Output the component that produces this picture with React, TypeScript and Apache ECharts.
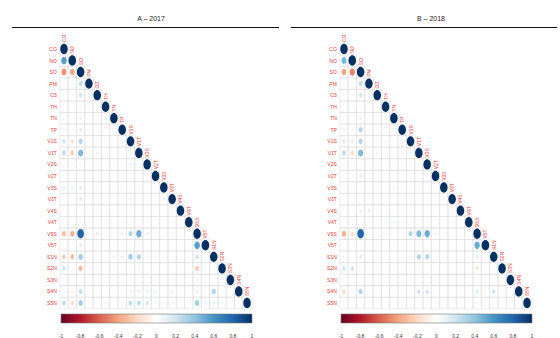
import React, { useEffect, useRef } from "react";
import * as echarts from "echarts";

const variables = [
  "CO", "NO", "SO", "PM", "O3", "TH", "TN", "TP", "V1S", "V1T", "V2S", "V2T",
  "V3S", "V3T", "V4S", "V4T", "V5S", "V5T", "S1N", "S2N", "S3N", "S4N", "S5N",
];

const titles = ["A – 2017", "B – 2018"];

const corrA: number[][] = [
  [],
  [0.55],
  [-0.45, -0.4],
  [0.08, 0.06, 0.25],
  [0.07, 0.05, 0.2, 0.1],
  [0.04, 0.03, 0.08, 0.05, 0.06],
  [0.06, 0.05, 0.1, 0.04, 0.05, 0.08],
  [0.08, 0.07, 0.15, 0.05, 0.04, 0.06, 0.1],
  [0.2, -0.18, 0.3, 0.06, 0.05, 0.04, 0.06, 0.05],
  [0.25, -0.25, 0.45, 0.05, 0.1, 0.04, 0.03, 0.05, 0.08],
  [0.06, 0.05, 0.08, 0.03, 0.04, 0.05, 0.03, 0.04, 0.1, 0.05],
  [0.04, 0.03, 0.06, 0.05, 0.03, 0.04, 0.05, 0.03, 0.04, 0.06, 0.05],
  [0.12, 0.1, 0.15, 0.04, 0.08, 0.05, 0.06, 0.08, 0.05, 0.04, 0.05, 0.06],
  [0.05, 0.04, 0.15, 0.03, 0.04, 0.05, 0.03, 0.04, 0.08, 0.04, 0.05, 0.03, 0.12],
  [0.03, 0.04, 0.05, 0.03, 0.04, 0.03, 0.05, 0.04, 0.03, 0.05, 0.04, 0.03, 0.05, 0.06],
  [0.04, 0.03, 0.08, 0.05, 0.03, 0.04, 0.03, 0.05, 0.04, 0.03, 0.05, 0.04, 0.03, 0.05, 0.04],
  [-0.3, -0.35, 0.8, 0.08, 0.12, 0.05, 0.06, 0.1, 0.3, 0.5, 0.1, 0.06, 0.05, -0.06, 0.05, 0.04],
  [0.05, 0.04, 0.15, 0.03, 0.04, 0.05, 0.03, 0.04, 0.05, 0.04, 0.03, 0.05, 0.04, 0.03, 0.05, 0.04, 0.55],
  [-0.25, -0.3, 0.35, 0.05, 0.04, 0.06, 0.08, 0.1, 0.35, 0.3, 0.08, 0.1, 0.04, 0.05, 0.03, 0.04, 0.2, 0.06],
  [0.2, 0.08, -0.3, 0.03, 0.05, 0.04, 0.03, 0.05, 0.04, 0.06, 0.03, 0.05, 0.04, 0.03, 0.05, 0.04, -0.25, 0.05, 0.06],
  [0.04, 0.05, 0.06, 0.03, 0.04, 0.05, 0.03, 0.04, 0.05, 0.04, 0.03, 0.05, 0.04, 0.06, 0.05, 0.04, 0.08, 0.04, 0.05, 0.06],
  [0.08, -0.1, 0.25, 0.04, 0.05, 0.03, 0.04, 0.05, 0.1, 0.12, 0.1, 0.08, 0.04, 0.1, 0.05, 0.04, 0.1, 0.05, 0.3, 0.06, 0.05],
  [0.25, -0.2, 0.35, 0.04, 0.05, 0.1, 0.04, 0.05, 0.25, 0.25, 0.2, 0.1, 0.05, 0.08, 0.04, 0.08, 0.35, 0.1, 0.12, 0.08, 0.06, 0.05],
];

const corrB: number[][] = [
  [],
  [0.45],
  [-0.4, -0.5],
  [0.06, 0.05, 0.25],
  [0.08, 0.06, 0.2, 0.1],
  [0.04, 0.05, 0.06, 0.04, 0.05],
  [0.05, 0.04, 0.1, 0.05, 0.04, 0.06],
  [0.1, 0.08, 0.3, 0.05, 0.06, 0.04, 0.08],
  [0.15, 0.12, 0.3, 0.04, 0.05, 0.08, 0.06, 0.05],
  [0.25, -0.2, 0.45, 0.05, 0.08, 0.04, 0.05, 0.08, 0.1],
  [0.08, 0.06, 0.05, 0.04, 0.03, 0.05, 0.04, 0.03, 0.06, 0.08],
  [0.04, 0.08, 0.12, 0.03, 0.04, 0.05, 0.03, 0.04, 0.05, 0.04, 0.06],
  [-0.08, -0.06, 0.05, 0.03, 0.04, 0.05, 0.08, 0.04, 0.03, 0.05, 0.04, 0.05],
  [0.04, 0.03, 0.05, 0.04, 0.03, 0.05, 0.04, 0.03, 0.05, 0.04, 0.06, 0.04, 0.08],
  [0.03, 0.04, 0.1, 0.12, 0.04, 0.03, 0.05, 0.04, 0.03, 0.05, 0.04, 0.03, 0.05, 0.06],
  [0.04, 0.03, 0.05, 0.04, 0.03, 0.08, 0.08, 0.05, 0.04, 0.03, 0.05, 0.04, 0.03, 0.05, 0.04],
  [-0.35, -0.2, 0.8, 0.05, 0.06, 0.08, 0.04, 0.05, 0.3, 0.45, 0.5, 0.08, 0.06, 0.04, 0.05, 0.04],
  [0.04, 0.05, 0.06, 0.03, 0.04, 0.05, 0.03, 0.04, 0.05, 0.04, 0.03, 0.05, 0.04, 0.03, 0.05, 0.04, 0.5],
  [-0.1, 0.04, 0.15, 0.03, 0.05, 0.04, 0.03, 0.05, 0.08, 0.3, 0.3, 0.05, 0.04, 0.03, 0.05, 0.04, 0.15, 0.05],
  [0.2, 0.2, 0.06, 0.03, 0.04, 0.05, 0.03, 0.04, 0.05, 0.04, 0.03, 0.05, 0.04, 0.03, 0.05, 0.04, -0.15, 0.04, 0.05],
  [0.06, 0.04, 0.05, 0.03, 0.04, 0.05, 0.03, 0.04, 0.05, 0.04, 0.03, 0.05, 0.04, 0.03, 0.05, 0.04, 0.06, 0.04, 0.05, 0.04],
  [-0.2, 0.06, 0.3, 0.04, 0.05, 0.03, 0.04, 0.05, 0.08, 0.2, 0.2, 0.05, 0.04, 0.03, 0.05, 0.04, 0.15, 0.05, 0.2, 0.04, 0.05],
  [0.05, 0.04, 0.06, 0.03, 0.04, 0.05, 0.03, 0.04, 0.05, 0.04, 0.03, 0.05, 0.04, 0.03, 0.05, 0.04, 0.06, 0.04, 0.05, 0.04, 0.03, 0.05],
];

const palette = [
  "#67001F", "#B2182B", "#D6604D", "#F4A582", "#FDDBC7", "#FFFFFF",
  "#D1E5F0", "#92C5DE", "#4393C3", "#2166AC", "#053061",
];

const legendRange = [-1, 1];
const legendStep = 0.2;

const labelRed = "#e8403c";

function toItems(m: number[][]) {
  const out: number[][] = [];
  for (let i = 0; i < variables.length; i++) {
    const row = m[i] || [];
    for (let j = 0; j < i; j++) out.push([j, i, row[j] ?? 0]);
    out.push([i, i, 1]);
  }
  return out;
}

const renderCell = (params: any, api: any) => {
  const x = api.value(0);
  const y = api.value(1);
  const v = api.value(2);
  const c = api.coord([x, y]);
  const s = api.size([1, 1]);
  const w = s[0];
  const h = s[1];
  const k = 0.45 * Math.sqrt(Math.abs(v));
  const color = api.visual("color");
  const children: any[] = [
    {
      type: "rect",
      shape: { x: c[0] - w / 2, y: c[1] - h / 2, width: w, height: h },
      style: { fill: "none", stroke: "#dadada", lineWidth: 0.5 },
    },
    {
      type: "ellipse",
      shape: { cx: c[0], cy: c[1], rx: w * k, ry: h * k },
      style: { fill: color, stroke: null },
    },
  ];
  if (x === y) {
    children.push({
      type: "text",
      x: c[0],
      y: c[1] - h / 2 - 1,
      rotation: Math.PI / 2,
      style: {
        text: variables[x],
        fill: labelRed,
        fontSize: 5,
        fontFamily: "Liberation Sans",
        align: "left",
        verticalAlign: "middle",
      },
    });
  }
  return { type: "group", children };
};

const renderLegend = (params: any, api: any) => {
  const p0 = api.coord([legendRange[0], 1]);
  const p1 = api.coord([legendRange[1], 0]);
  const stops = palette.map((col, i) => ({ offset: i / (palette.length - 1), color: col }));
  return {
    type: "rect",
    shape: { x: p0[0], y: p0[1], width: p1[0] - p0[0], height: p1[1] - p0[1] },
    style: {
      fill: new echarts.graphic.LinearGradient(0, 0, 1, 0, stops),
      stroke: "#777",
      lineWidth: 0.6,
    },
  };
};

export default function App() {
  const ref = useRef<HTMLDivElement>(null);
  useEffect(() => {
    if (!ref.current) return;
    const chart = echarts.init(ref.current, undefined, { renderer: "svg" });
    const mainGrid = (left: number) => ({ left, top: 43.2, width: 191.4, height: 265.6 });
    const legGrid = (left: number) => ({ left, top: 314, width: 191, height: 11 });
    const catX = (gi: number) => ({ gridIndex: gi, type: "category", data: variables, show: false });
    const catY = (gi: number) => ({
      gridIndex: gi,
      type: "category",
      data: variables,
      inverse: true,
      axisLine: { show: false },
      axisTick: { show: false },
      splitLine: { show: false },
      axisLabel: { color: labelRed, fontSize: 5, margin: 3, fontFamily: "Liberation Sans" },
    });
    const valX = (gi: number) => ({
      gridIndex: gi,
      type: "value",
      min: legendRange[0],
      max: legendRange[1],
      interval: legendStep,
      axisLine: { show: false },
      axisTick: { show: false },
      splitLine: { show: false },
      axisLabel: { fontSize: 5, color: "#333", margin: 10, fontFamily: "Liberation Sans" },
    });
    const valY = (gi: number) => ({ gridIndex: gi, type: "value", min: 0, max: 1, show: false });

    chart.setOption({
      animation: false,
      backgroundColor: "#ffffff",
      textStyle: { fontFamily: "Liberation Sans" },
      grid: [mainGrid(59.8), mainGrid(339.8), legGrid(61), legGrid(341)],
      xAxis: [catX(0), catX(1), valX(2), valX(3)],
      yAxis: [catY(0), catY(1), valY(2), valY(3)],
      visualMap: {
        type: "continuous",
        show: false,
        min: -1,
        max: 1,
        dimension: 2,
        seriesIndex: [0, 1],
        inRange: { color: palette },
      },
      graphic: [
        {
          type: "text",
          x: 151,
          y: 18,
          style: { text: titles[0], fontSize: 7, fill: "#222", align: "center", verticalAlign: "middle", fontFamily: "Liberation Sans" },
        },
        {
          type: "text",
          x: 431,
          y: 18,
          style: { text: titles[1], fontSize: 7, fill: "#222", align: "center", verticalAlign: "middle", fontFamily: "Liberation Sans" },
        },
        { type: "line", shape: { x1: 12, y1: 27.5, x2: 279, y2: 27.5 }, style: { stroke: "#111", lineWidth: 1 } },
        { type: "line", shape: { x1: 291, y1: 27.5, x2: 557, y2: 27.5 }, style: { stroke: "#111", lineWidth: 1 } },
      ],
      series: [
        { type: "custom", xAxisIndex: 0, yAxisIndex: 0, renderItem: renderCell, data: toItems(corrA), silent: true },
        { type: "custom", xAxisIndex: 1, yAxisIndex: 1, renderItem: renderCell, data: toItems(corrB), silent: true },
        { type: "custom", xAxisIndex: 2, yAxisIndex: 2, renderItem: renderLegend, data: [[0, 0]], silent: true },
        { type: "custom", xAxisIndex: 3, yAxisIndex: 3, renderItem: renderLegend, data: [[0, 0]], silent: true },
      ],
    });
    return () => chart.dispose();
  }, []);
  return (
    <div
      ref={ref}
      style={{ position: "fixed", left: 0, top: 0, width: 560, height: 338, background: "#fff" }}
    />
  );
}
